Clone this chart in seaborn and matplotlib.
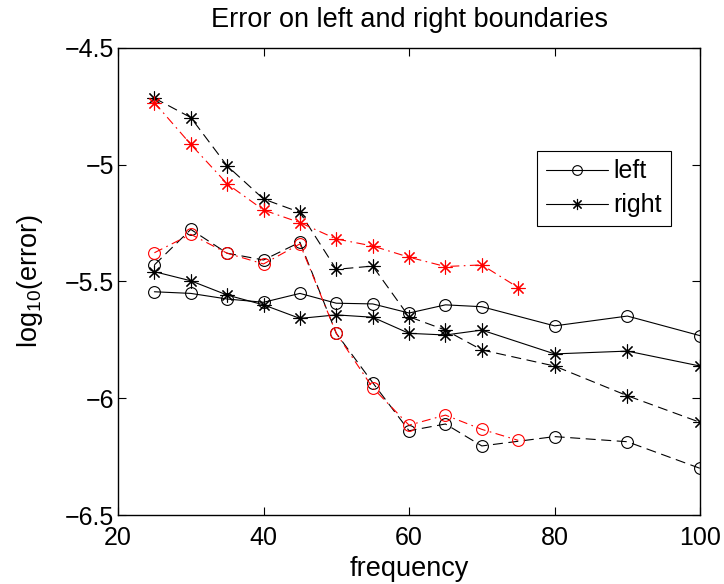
import matplotlib
matplotlib.use("Agg")
import matplotlib.pyplot as plt
import seaborn as sns
import pandas as pd
from matplotlib.lines import Line2D

# frequencies sampled for each run
freq_full = [25, 30, 35, 40, 45, 50, 55, 60, 65, 70, 80, 90, 100]
freq_short = [25, 30, 35, 40, 45, 50, 55, 60, 65, 70, 75]

# log10 error, boundary conditions of the first method (solid)
left_solid = [-5.544, -5.551, -5.575, -5.589, -5.551, -5.593, -5.596,
              -5.635, -5.600, -5.608, -5.690, -5.648, -5.732]
right_solid = [-5.458, -5.497, -5.558, -5.600, -5.658, -5.643, -5.653,
               -5.722, -5.729, -5.708, -5.810, -5.798, -5.862]

# second method (black dashed)
left_dashed = [-5.429, -5.277, -5.379, -5.408, -5.332, -5.722, -5.933,
               -6.139, -6.110, -6.204, -6.164, -6.186, -6.300]
right_dashed = [-4.715, -4.798, -5.005, -5.147, -5.204, -5.448, -5.434,
                -5.651, -5.708, -5.793, -5.862, -5.989, -6.103]

# third method (red dash-dot), only up to 75
left_dashdot = [-5.377, -5.298, -5.379, -5.425, -5.339, -5.722, -5.955,
                -6.115, -6.072, -6.133, -6.180]
right_dashdot = [-4.734, -4.913, -5.082, -5.194, -5.248, -5.318, -5.348,
                 -5.396, -5.436, -5.429, -5.526]

x_ticks = [20, 40, 60, 80, 100]
y_ticks = [-6.5, -6, -5.5, -5, -4.5]
y_tick_labels = ["\u22126.5", "\u22126", "\u22125.5", "\u22125", "\u22124.5"]

sns.set_theme(style="ticks")
plt.rcParams["font.family"] = ["Liberation Sans", "DejaVu Sans"]
plt.rcParams["mathtext.fontset"] = "custom"
plt.rcParams["mathtext.rm"] = "Liberation Sans"
plt.rcParams["mathtext.it"] = "Liberation Sans"
plt.rcParams["text.color"] = "black"
plt.rcParams["axes.labelcolor"] = "black"

fig = plt.figure(figsize=(7.24, 5.84), dpi=100)
ax = fig.add_axes([0.163, 0.118, 0.804, 0.800])

circle = "o"
star = (8, 2, 0)
dash = (0, (9, 5))
dashdot = (0, (8, 4, 1.5, 4))
marker_size = {circle: 8.5, star: 10}

series = [
    (freq_full, left_solid, "black", circle, "-"),
    (freq_full, right_solid, "black", star, "-"),
    (freq_full, left_dashed, "black", circle, dash),
    (freq_full, right_dashed, "black", star, dash),
    (freq_short, left_dashdot, "red", circle, dashdot),
    (freq_short, right_dashdot, "red", star, dashdot),
]

for xs, ys, col, mk, ls in series:
    df = pd.DataFrame({"frequency": xs, "err": ys})
    sns.lineplot(data=df, x="frequency", y="err", ax=ax, color=col,
                 marker=mk, markersize=marker_size[mk], markerfacecolor="none",
                 markeredgecolor=col, markeredgewidth=0.8,
                 linestyle=ls, linewidth=0.8, estimator=None, sort=False)

ax.set_xlim(20, 100)
ax.set_ylim(-6.5, -4.5)
ax.set_xticks(x_ticks)
ax.set_xticklabels([str(v) for v in x_ticks])
ax.set_yticks(y_ticks)
ax.set_yticklabels(y_tick_labels)
ax.tick_params(direction="in", length=6, width=0.8, top=True, right=True,
               labelsize=18, colors="black")
ax.tick_params(axis="x", pad=8)
ax.tick_params(axis="y", pad=3)
for s in ax.spines.values():
    s.set_visible(True)
    s.set_linewidth(1.0)
    s.set_color("black")

ax.set_title("Error on left and right boundaries", fontsize=19.5, pad=15)
ax.set_xlabel("frequency", fontsize=19.5, labelpad=4)
ax.set_ylabel("log$_{10}$(error)", fontsize=19.5, labelpad=14)

handles = [
    Line2D([], [], color="black", lw=0.8, marker=circle, markersize=7,
           markerfacecolor="none", markeredgewidth=0.8),
    Line2D([], [], color="black", lw=0.8, marker=star, markersize=8,
           markeredgewidth=0.8),
]
leg = ax.legend(handles, ["left", "right"], loc="upper left",
                bbox_to_anchor=(0.72, 0.78), fontsize=18, frameon=True,
                fancybox=False, edgecolor="black", framealpha=1,
                handlelength=2.5, handletextpad=0.2, borderpad=0.35,
                labelspacing=0.4, numpoints=1, borderaxespad=0)
leg.get_frame().set_linewidth(0.8)

fig.savefig("out.png", dpi=100, facecolor="white")
